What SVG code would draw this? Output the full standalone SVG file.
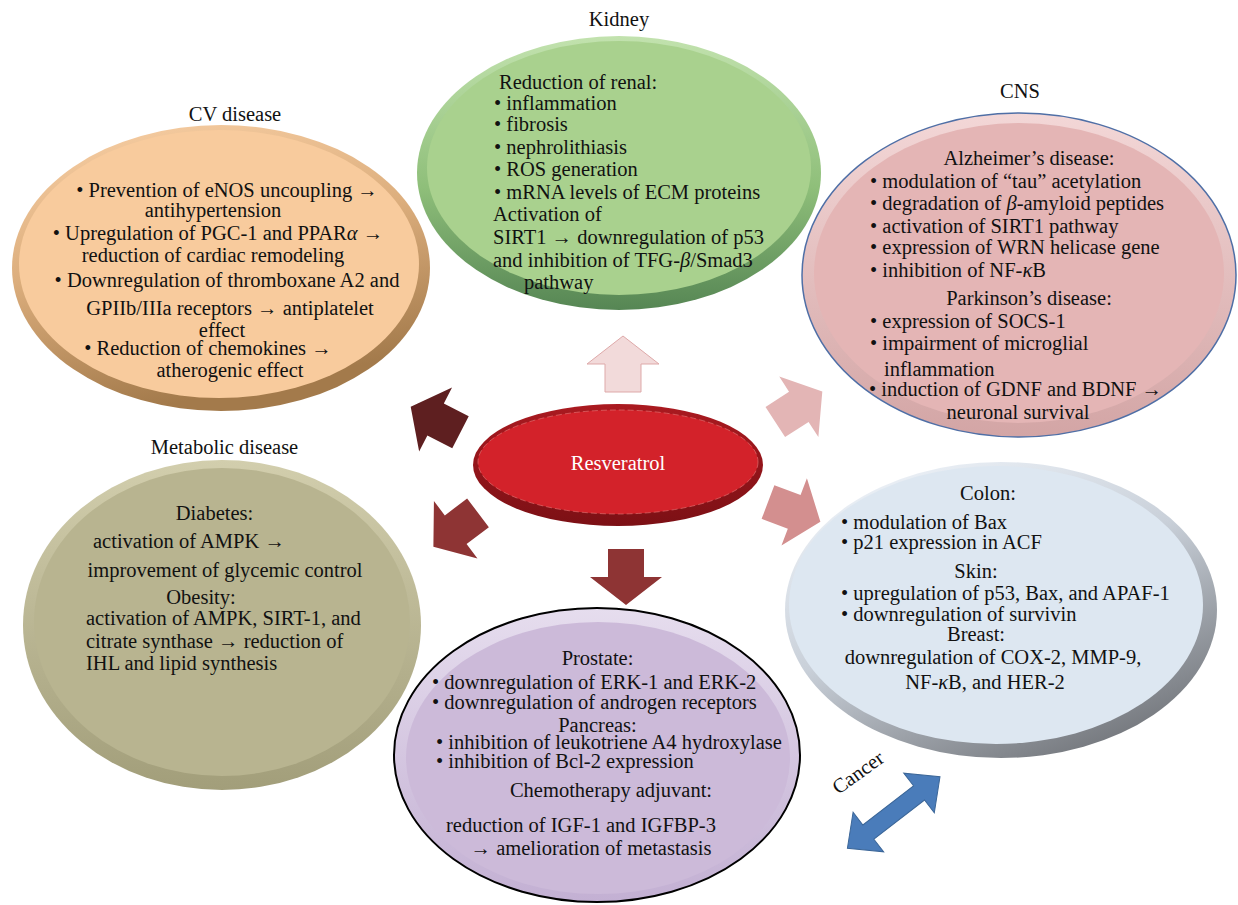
<svg xmlns="http://www.w3.org/2000/svg" width="1238" height="905" viewBox="0 0 1238 905">
<style>
text{font-family:"Liberation Serif","Times New Roman",serif;font-size:20.5px;fill:#111}
.m{text-anchor:middle}
.i{font-style:italic}
</style>
<defs>
<linearGradient id="gKid" x1="0" y1="0" x2="0" y2="1"><stop offset="0" stop-color="#c2e2ae"/><stop offset="0.55" stop-color="#8fbf7a"/><stop offset="1" stop-color="#568654"/></linearGradient>
<linearGradient id="gCv" x1="0" y1="0" x2="0.3" y2="1"><stop offset="0" stop-color="#f9d0a6"/><stop offset="0.5" stop-color="#dcae7d"/><stop offset="1" stop-color="#a37a4b"/></linearGradient>
<linearGradient id="gCns" x1="0" y1="0" x2="0" y2="1"><stop offset="0" stop-color="#f3d7d7"/><stop offset="1" stop-color="#d3a5a5"/></linearGradient>
<linearGradient id="gCol" x1="0.2" y1="0" x2="0.8" y2="1"><stop offset="0" stop-color="#eef3f9"/><stop offset="0.45" stop-color="#c9d0d9"/><stop offset="1" stop-color="#6c6f74"/></linearGradient>
<linearGradient id="gMet" x1="0" y1="0" x2="0" y2="1"><stop offset="0" stop-color="#d2cead"/><stop offset="1" stop-color="#a29e7a"/></linearGradient>
<linearGradient id="gPro" x1="0" y1="0" x2="0" y2="1"><stop offset="0" stop-color="#e6ddee"/><stop offset="1" stop-color="#c3b0d3"/></linearGradient>
<linearGradient id="gRes" x1="0" y1="0" x2="0" y2="1"><stop offset="0" stop-color="#aa1a20"/><stop offset="1" stop-color="#7c1015"/></linearGradient>
<polygon id="arr" points="0,-18 28,-18 28,-36 56,0 28,36 28,18 0,18"/>
</defs>

<g id="cv">
<ellipse cx="221" cy="268" rx="209" ry="143" fill="url(#gCv)"/>
<ellipse cx="219" cy="264" rx="200" ry="134" fill="#f8cb9d"/>
<text class="m" x="235" y="120.5">CV disease</text>
<text class="m" x="227" y="197">• Prevention of eNOS uncoupling →</text>
<text class="m" x="213" y="217">antihypertension</text>
<text class="m" x="218" y="240">• Upregulation of PGC-1 and PPAR<tspan class="i">α</tspan> →</text>
<text class="m" x="213" y="261.5">reduction of cardiac remodeling</text>
<text class="m" x="227" y="286.5">• Downregulation of thromboxane A2 and</text>
<text class="m" x="230" y="315">GPIIb/IIIa receptors → antiplatelet</text>
<text class="m" x="222" y="336.5">effect</text>
<text class="m" x="208" y="355">• Reduction of chemokines →</text>
<text class="m" x="230" y="376.5">atherogenic effect</text>
</g>

<g id="kidney">
<ellipse cx="619" cy="173" rx="202" ry="137" fill="url(#gKid)"/>
<ellipse cx="619" cy="168" rx="192" ry="127" fill="#a9d18e"/>
<text class="m" x="619" y="25.5">Kidney</text>
<text x="499" y="88.5">Reduction of renal:</text>
<text x="494" y="109.5">• inflammation</text>
<text x="494" y="131">• fibrosis</text>
<text x="494" y="153.5">• nephrolithiasis</text>
<text x="494" y="176">• ROS generation</text>
<text x="494" y="198.5">• mRNA levels of ECM proteins</text>
<text x="493" y="220.5">Activation of</text>
<text x="493" y="243.5">SIRT1 → downregulation of p53</text>
<text x="493" y="266.5">and inhibition of TFG-<tspan class="i">β</tspan>/Smad3</text>
<text x="524" y="288.5">pathway</text>
</g>

<g id="cns">
<ellipse cx="1019" cy="275" rx="217" ry="162" fill="url(#gCns)" stroke="#4f6fa6" stroke-width="1.5"/>
<ellipse cx="1019" cy="273" rx="205" ry="150" fill="#e4b5b5"/>
<text class="m" x="1020" y="97.5">CNS</text>
<text class="m" x="1029" y="165">Alzheimer’s disease:</text>
<text x="870" y="187.5">• modulation of “tau” acetylation</text>
<text x="870" y="209.5">• degradation of <tspan class="i">β</tspan>-amyloid peptides</text>
<text x="870" y="232.5">• activation of SIRT1 pathway</text>
<text x="870" y="254">• expression of WRN helicase gene</text>
<text x="870" y="276.5">• inhibition of NF-<tspan class="i">κ</tspan>B</text>
<text class="m" x="1029" y="305">Parkinson’s disease:</text>
<text x="870" y="327.5">• expression of SOCS-1</text>
<text x="870" y="349.5">• impairment of microglial</text>
<text x="884" y="376">inflammation</text>
<text x="869" y="396">• induction of GDNF and BDNF →</text>
<text class="m" x="1018" y="418.5">neuronal survival</text>
</g>

<g id="metabolic">
<ellipse cx="222" cy="625" rx="199" ry="165" fill="url(#gMet)"/>
<ellipse cx="222" cy="622" rx="188" ry="154" fill="#b8b490"/>
<text class="m" x="224.5" y="453.5">Metabolic disease</text>
<text class="m" x="214.5" y="519.5">Diabetes:</text>
<text x="93" y="547.5">activation of AMPK →</text>
<text class="m" x="225" y="576.5">improvement of glycemic control</text>
<text class="m" x="201" y="603.5">Obesity:</text>
<text x="86" y="625">activation of AMPK, SIRT-1, and</text>
<text x="86" y="647.5">citrate synthase → reduction of</text>
<text x="86" y="670">IHL and lipid synthesis</text>
</g>

<g id="colon">
<ellipse cx="1001" cy="610" rx="216" ry="148" fill="url(#gCol)"/>
<ellipse cx="996" cy="605" rx="207" ry="139" fill="#dde7f1"/>
<text class="m" x="988" y="499.5">Colon:</text>
<text x="841" y="528.5">• modulation of Bax</text>
<text x="841" y="548.5">• p21 expression in ACF</text>
<text class="m" x="976" y="577.5">Skin:</text>
<text x="841" y="599.5">• upregulation of p53, Bax, and APAF-1</text>
<text x="841" y="620.5">• downregulation of survivin</text>
<text class="m" x="976" y="641">Breast:</text>
<text class="m" x="993" y="663.5">downregulation of COX-2, MMP-9,</text>
<text class="m" x="985" y="688.5">NF-<tspan class="i">κ</tspan>B, and HER-2</text>
</g>

<g id="prostate">
<ellipse cx="597" cy="755" rx="203" ry="147" fill="url(#gPro)" stroke="#000" stroke-width="2"/>
<ellipse cx="598" cy="758" rx="192" ry="136" fill="#ccbad9"/>
<text class="m" x="597.5" y="665">Prostate:</text>
<text x="432" y="688.5">• downregulation of ERK-1 and ERK-2</text>
<text x="432" y="708.5">• downregulation of androgen receptors</text>
<text class="m" x="597.5" y="731.5">Pancreas:</text>
<text x="436" y="749">• inhibition of leukotriene A4 hydroxylase</text>
<text x="436" y="767.5">• inhibition of Bcl-2 expression</text>
<text class="m" x="611" y="796.5">Chemotherapy adjuvant:</text>
<text class="m" x="581" y="831.5">reduction of IGF-1 and IGFBP-3</text>
<text class="m" x="591" y="855">→ amelioration of metastasis</text>
</g>

<g id="resveratrol">
<ellipse cx="618" cy="465" rx="145" ry="61" fill="url(#gRes)"/>
<ellipse cx="618" cy="462" rx="140" ry="52" fill="#d3222a" stroke="#e87a7a" stroke-width="0.6" stroke-dasharray="6 3"/>
<text class="m" x="618" y="469.5" style="fill:#fff">Resveratrol</text>
</g>

<g id="connectors">
<use href="#arr" transform="translate(623,392) rotate(-90)" fill="#f2dada" stroke="#dea9a9" stroke-width="1"/>
<use href="#arr" transform="translate(626,549) rotate(90)" fill="#8e3434"/>
<use href="#arr" transform="translate(460.5,432.3) rotate(207.2)" fill="#5e1f20"/>
<use href="#arr" transform="translate(478,512.8) rotate(142.8)" fill="#8e3434"/>
<use href="#arr" transform="translate(775.3,422) rotate(-32.9)" fill="#e3b5b5"/>
<use href="#arr" transform="translate(768,502) rotate(20.7)" fill="#d38f8f"/>
<polygon transform="translate(893.7,812.5) rotate(-37.7)" points="-58.5,0 -32,-25 -32,-9 32,-9 32,-25 58.5,0 32,25 32,9 -32,9 -32,25" fill="#4a7cba" stroke="#3b6698" stroke-width="1"/>
<text class="m" transform="translate(862,778) rotate(-36)" x="0" y="0">Cancer</text>
</g>
</svg>
